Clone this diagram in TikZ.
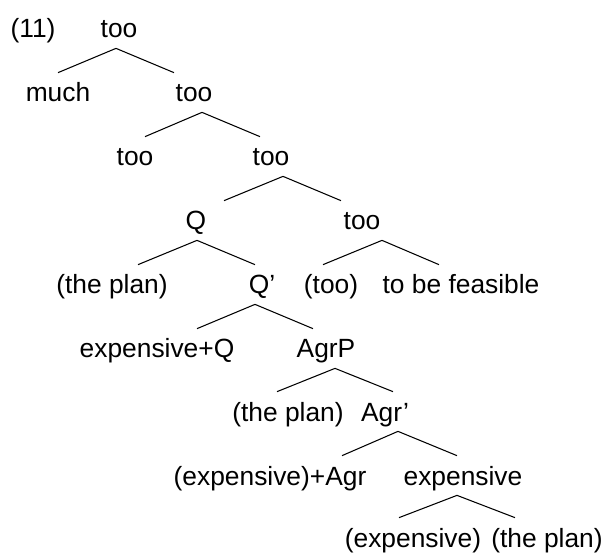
\documentclass[tikz,border=0pt]{standalone}
\usepackage{fontspec}
\setmainfont{Liberation Sans}
\usepackage{tikz}

\begin{document}
\begin{tikzpicture}[font=\fontsize{15}{18}\selectfont,
  lbl/.style={anchor=base, inner xsep=0pt, inner ysep=2pt,
    text height=14.5pt, text depth=3.7pt},
  branch/.style={line width=0.6pt}]

\useasboundingbox (0,0) rectangle (12.12,-11.06);

% Número do exemplo
\node[lbl] (ex) at (0.66,-0.76) {(11)};

% Nós, linha por linha
\node[lbl] (too1) at (2.38,-0.76) {too};
\node[lbl] (much) at (1.16,-2.04) {much};
\node[lbl] (too2) at (3.88,-2.04) {too};
\node[lbl] (too3) at (2.70,-3.32) {too};
\node[lbl] (too4) at (5.42,-3.32) {too};
\node[lbl] (Q) at (3.92,-4.60) {Q};
\node[lbl] (too5) at (7.24,-4.60) {too};
\node[lbl] (plan1) at (2.24,-5.88) {(the plan)};
\node[lbl] (Qbar) at (5.24,-5.88) {Q’};
\node[lbl] (tooP) at (6.62,-5.88) {(too)};
\node[lbl] (feas) at (9.22,-5.88) {to be feasible};
\node[lbl] (expQ) at (3.14,-7.16) {expensive+Q};
\node[lbl] (AgrP) at (6.52,-7.16) {AgrP};
\node[lbl] (plan2) at (5.76,-8.42) {(the plan)};
\node[lbl] (Agrbar) at (7.70,-8.42) {Agr’};
\node[lbl] (expAgr) at (5.40,-9.70) {(expensive)+Agr};
\node[lbl] (exp) at (9.26,-9.70) {expensive};
\node[lbl] (expT) at (8.26,-10.94) {(expensive)};
\node[lbl] (plan3) at (10.94,-10.94) {(the plan)};

% Ramos
\draw[branch] ([xshift=-0.06cm]too1.south) -- (much.north);
\draw[branch] ([xshift=-0.06cm]too1.south) -- ([xshift=-0.40cm]too2.north);
\draw[branch] ([xshift=0.16cm]too2.south) -- ([xshift=0.20cm]too3.north);
\draw[branch] ([xshift=0.16cm]too2.south) -- ([xshift=-0.22cm]too4.north);
\draw[branch] ([xshift=0.24cm]too4.south) -- ([xshift=0.56cm]Q.north);
\draw[branch] ([xshift=0.24cm]too4.south) -- ([xshift=-0.42cm]too5.north);
\draw[branch] ([xshift=0.02cm]Q.south) -- ([xshift=0.52cm]plan1.north);
\draw[branch] ([xshift=0.02cm]Q.south) -- ([xshift=-0.14cm]Qbar.north);
\draw[branch] ([xshift=0.40cm]too5.south) -- ([xshift=-0.16cm]tooP.north);
\draw[branch] ([xshift=0.40cm]too5.south) -- ([xshift=-0.44cm]feas.north);
\draw[branch] ([xshift=-0.14cm]Qbar.south) -- ([xshift=0.80cm]expQ.north);
\draw[branch] ([xshift=-0.14cm]Qbar.south) -- ([xshift=-0.26cm]AgrP.north);
\draw[branch] ([xshift=0.18cm]AgrP.south) -- ([xshift=-0.22cm]plan2.north);
\draw[branch] ([xshift=0.18cm]AgrP.south) -- ([xshift=0.16cm]Agrbar.north);
\draw[branch] ([xshift=0.26cm]Agrbar.south) -- ([xshift=1.44cm]expAgr.north);
\draw[branch] ([xshift=0.26cm]Agrbar.south) -- ([xshift=-0.12cm]exp.north);
\draw[branch] ([xshift=-0.12cm]exp.south) -- ([xshift=-0.28cm]expT.north);
\draw[branch] ([xshift=-0.12cm]exp.south) -- ([xshift=-0.64cm]plan3.north);

\end{tikzpicture}
\end{document}
